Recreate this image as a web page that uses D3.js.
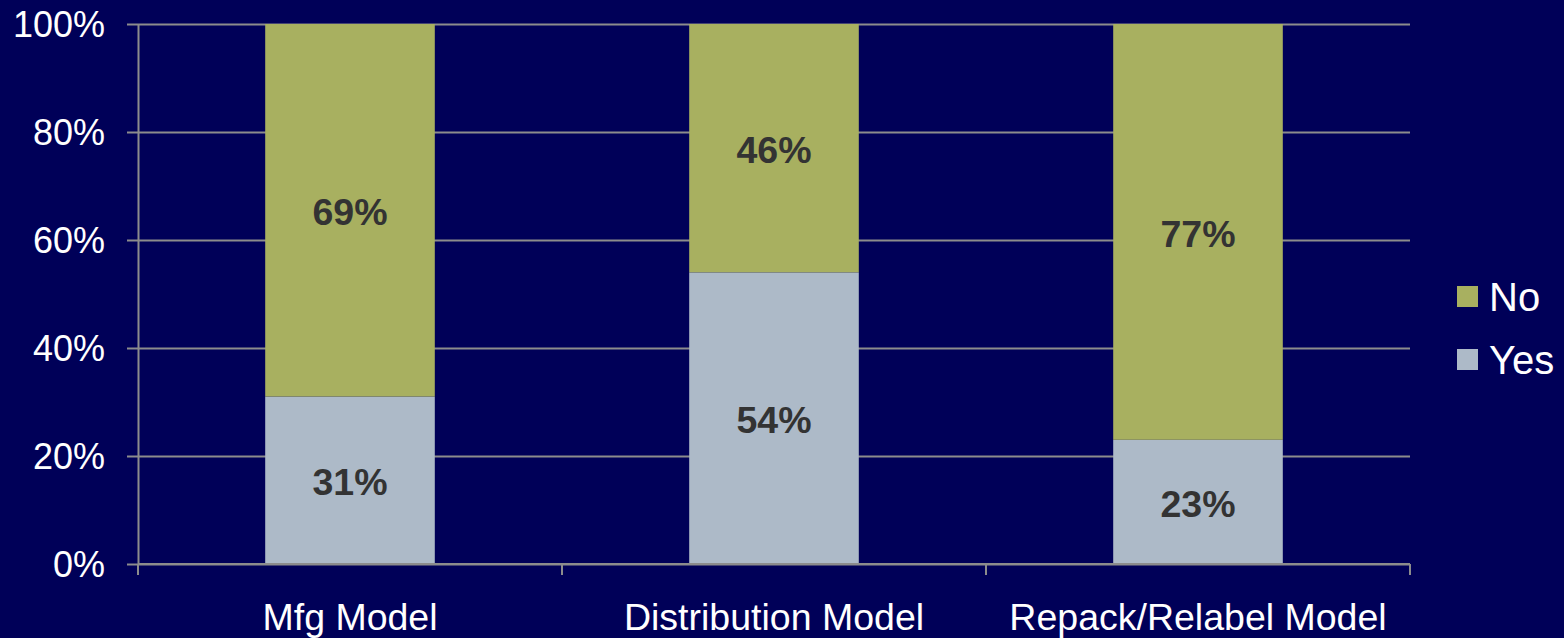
<!DOCTYPE html>
<html><head><meta charset="utf-8">
<script src="https://cdn.jsdelivr.net/npm/d3@7"></script>
<style>html,body{margin:0;padding:0;background:#000058;}svg{display:block;}</style>
</head><body>
<svg id="chart" width="1564" height="638"></svg>
<script>
const categories = ["Mfg Model", "Distribution Model", "Repack/Relabel Model"];
const seriesNames = ["Yes", "No"];
const yesValues = [31, 54, 23];
const noValues = [69, 46, 77];
const yTicks = [0, 20, 40, 60, 80, 100];

const colors = {Yes: "#adbac8", No: "#a8b060"};
const W = 1564, H = 638;
const m = {left: 138, right: 154, top: 24, bottom: 74};
const svg = d3.select("#chart");
svg.append("rect").attr("width", W).attr("height", H).attr("fill", "#000058");

const x = d3.scaleBand().domain(categories).range([m.left, W - m.right]).paddingInner(0.6).paddingOuter(0.3);
const y = d3.scaleLinear().domain([0, 100]).range([H - m.bottom, m.top]);

const data = categories.map((c, i) => ({cat: c, Yes: yesValues[i], No: noValues[i]}));
const stack = d3.stack().keys(seriesNames)(data);

const gridColor = "#8c8c8c";
const font = "Liberation Sans, Arial, sans-serif";
// gridlines + y axis
const yAxis = d3.axisLeft(y).tickValues(yTicks).tickFormat(d => d + "%")
  .tickSize(-(W - m.right - m.left)).tickSizeOuter(0).tickPadding(33);
const gy = svg.append("g").attr("transform", `translate(${m.left},0)`).call(yAxis);
gy.select(".domain").attr("stroke", gridColor).attr("stroke-width", 2);
gy.selectAll(".tick line").attr("stroke", gridColor).attr("stroke-width", 2).attr("x1", -11);
gy.selectAll(".tick text").attr("fill", "#ffffff").attr("font-family", font).attr("font-size", 36).attr("dy", "0.34em");

// bars
svg.append("g").selectAll("g").data(stack).join("g")
  .attr("fill", d => colors[d.key])
  .selectAll("rect").data(d => d).join("rect")
  .attr("x", d => x(d.data.cat))
  .attr("width", x.bandwidth())
  .attr("y", d => y(d[1]))
  .attr("height", d => y(d[0]) - y(d[1]));

// x axis
const xAxis = d3.axisBottom(x).tickSize(0).tickPadding(39);
const gx = svg.append("g").attr("transform", `translate(0,${H - m.bottom})`).call(xAxis);
gx.select(".domain").remove();
gx.append("line").attr("x1", m.left).attr("x2", W - m.right).attr("stroke", gridColor).attr("stroke-width", 2);
const step = x.step();
const boundaries = d3.range(categories.length + 1).map(i => m.left + i * step);
gx.selectAll(".sep").data(boundaries).join("line").attr("class", "sep")
  .attr("x1", d => d).attr("x2", d => d).attr("y1", 0).attr("y2", 11)
  .attr("stroke", gridColor).attr("stroke-width", 2);
gx.selectAll(".tick text").attr("fill", "#ffffff").attr("font-family", font).attr("font-size", 37.5).attr("dy", "0.71em");

// value labels
const lbl = svg.append("g");
stack.forEach(s => {
  s.forEach(d => {
    lbl.append("text")
      .attr("x", x(d.data.cat) + x.bandwidth() / 2)
      .attr("y", (y(d[0]) + y(d[1])) / 2)
      .attr("dy", "0.4em")
      .attr("text-anchor", "middle")
      .attr("fill", "#333333")
      .attr("font-family", font)
      .attr("font-weight", "bold")
      .attr("font-size", 37.5)
      .text((d[1] - d[0]) + "%");
  });
});

// legend
const legendItems = ["No", "Yes"];
const lg = svg.append("g").attr("transform", "translate(1457,286)");
legendItems.forEach((k, i) => {
  const g = lg.append("g").attr("transform", `translate(0,${i * 63})`);
  g.append("rect").attr("width", 21).attr("height", 21).attr("fill", colors[k]);
  g.append("text").attr("x", 32).attr("y", 10.5).attr("dy", "0.36em")
    .attr("fill", "#ffffff").attr("font-family", font).attr("font-size", 40).text(k);
});
</script>
</body></html>
